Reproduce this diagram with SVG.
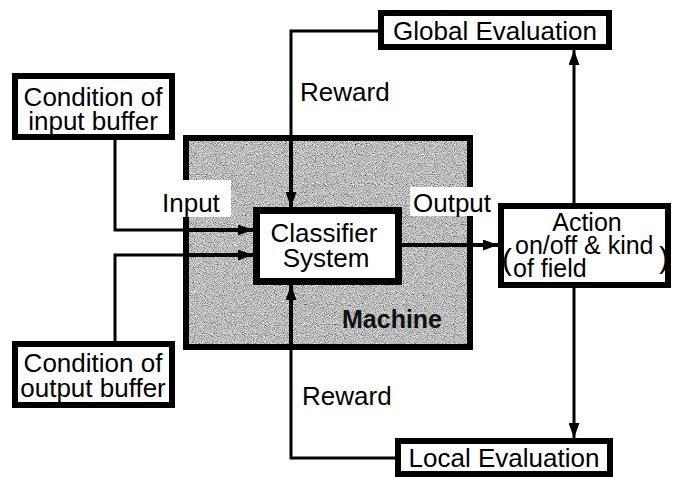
<svg xmlns="http://www.w3.org/2000/svg" width="673" height="477" viewBox="0 0 673 477">
<style>
  text { font-family: "Liberation Sans", Arial, sans-serif; font-size: 26px; fill: #000; }
  .box { fill: #fff; stroke: #000; stroke-width: 6; }
  .conn { fill: none; stroke: #000; stroke-width: 3; }
  .thick { stroke-width: 4; }
  .lbl { fill: #fff; stroke: none; }
  .mach { font-weight: bold; font-size: 25px; fill: #111; }
  .sm { font-size: 25px; }
</style>
<defs>
  <marker id="arr" markerUnits="userSpaceOnUse" markerWidth="16" markerHeight="11" refX="15" refY="5.5" orient="auto">
    <path d="M0,0 L15,5.5 L0,11 z" fill="#000"/>
  </marker>
  <filter id="grain" filterUnits="objectBoundingBox" x="0" y="0" width="1" height="1">
    <feTurbulence type="fractalNoise" baseFrequency="1.1" numOctaves="1" seed="7" result="n"/>
    <feColorMatrix in="n" type="matrix" values="1.5 0 0 0 -0.25  1.5 0 0 0 -0.25  1.5 0 0 0 -0.25  0 0 0 0 1"/>
  </filter>
</defs>

<rect width="673" height="477" fill="#fff"/>

<g id="machine">
  <rect x="186" y="138" width="284" height="209" fill="#aaa" filter="url(#grain)"/>
  <rect x="186" y="138" width="284" height="209" fill="none" stroke="#000" stroke-width="6"/>
  <rect class="lbl" x="157" y="180" width="74" height="37"/>
  <rect class="lbl" x="410" y="187" width="87" height="29"/>
  <text x="162" y="212">Input</text>
  <text x="413" y="212">Output</text>
  <text class="mach" x="342" y="328">Machine</text>
</g>

<g id="connectors">
  <path class="conn" d="M115,140 V230 H186"/>
  <path class="conn" d="M115,341 V255 H186"/>
  <path class="conn thick" d="M186,230 H253" marker-end="url(#arr)"/>
  <path class="conn thick" d="M186,255 H253" marker-end="url(#arr)"/>
  <path class="conn" d="M379,31 H291 V138"/>
  <path class="conn thick" d="M291,138 V207" marker-end="url(#arr)"/>
  <path class="conn" d="M395,458 H291 V347"/>
  <path class="conn thick" d="M291,347 V285" marker-end="url(#arr)"/>
  <path class="conn thick" d="M402,245 H498" marker-end="url(#arr)"/>
  <path class="conn" d="M574,203 V50" marker-end="url(#arr)"/>
  <path class="conn" d="M574,288 V438" marker-end="url(#arr)"/>
</g>

<g id="classifier">
  <rect x="256.5" y="210.5" width="142" height="71" fill="#fff" stroke="#000" stroke-width="7"/>
  <text x="324" y="242" text-anchor="middle">Classifier</text>
  <text x="326" y="267" text-anchor="middle">System</text>
</g>

<g id="input-buffer">
  <rect class="box" x="15" y="76" width="157" height="61"/>
  <text x="93" y="106" text-anchor="middle">Condition of</text>
  <text x="93" y="130" text-anchor="middle">input buffer</text>
</g>

<g id="output-buffer">
  <rect class="box" x="15" y="344" width="157" height="61"/>
  <text x="93" y="372" text-anchor="middle">Condition of</text>
  <text x="93" y="397" text-anchor="middle">output buffer</text>
</g>

<g id="global-eval">
  <rect class="box" x="381" y="13" width="228" height="34"/>
  <text x="495" y="40" text-anchor="middle">Global Evaluation</text>
</g>

<g id="local-eval">
  <rect class="box" x="398" y="441" width="212" height="33"/>
  <text x="504" y="467" text-anchor="middle">Local Evaluation</text>
</g>

<g id="action">
  <rect class="box" x="501" y="206" width="167" height="79"/>
  <text class="sm" x="587" y="231" text-anchor="middle">Action</text>
  <text class="sm" x="515" y="254">on/off &amp; kind</text>
  <text class="sm" x="513" y="277">of field</text>
  <text x="502" y="270" style="font-size:30px">(</text>
  <text x="659" y="268" style="font-size:30px">)</text>
</g>

<g id="labels">
  <text x="300" y="101">Reward</text>
  <text x="302" y="405">Reward</text>
</g>
</svg>
